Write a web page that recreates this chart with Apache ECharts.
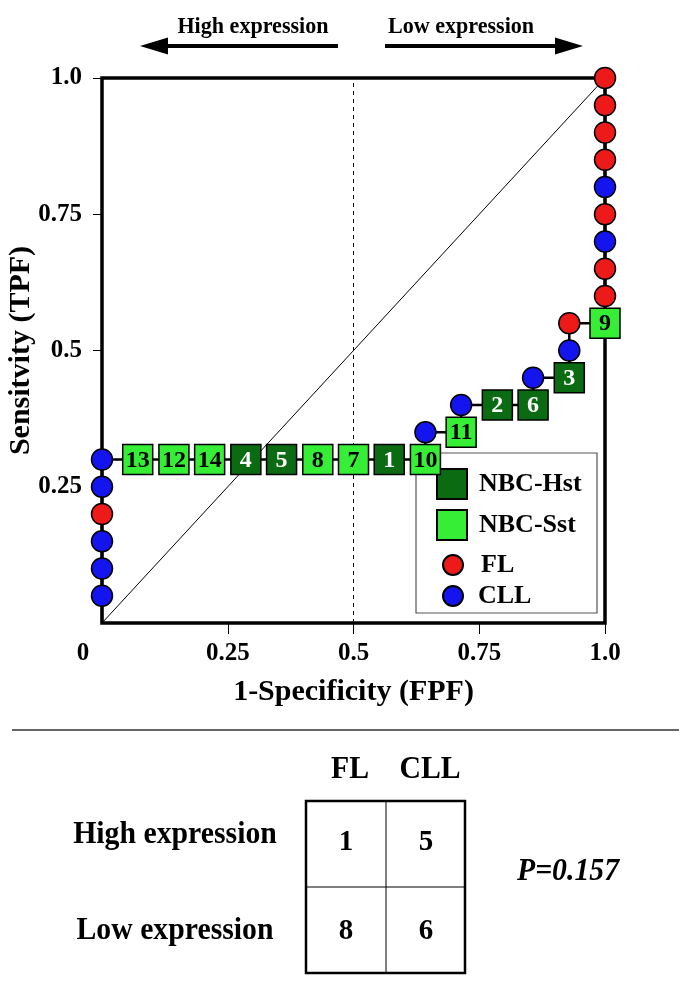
<!DOCTYPE html>
<html>
<head>
<meta charset="utf-8">
<script src="https://cdn.jsdelivr.net/npm/echarts@6/dist/echarts.min.js"></script>
<style>
html,body{margin:0;padding:0;background:#fff;}
#c{width:685px;height:989px;}
</style>
</head>
<body>
<div id="c"></div>
<script>
// ---- data ----
const xTickValues = [0.25, 0.5, 0.75, 1];
const xLabelValues = [0, 0.25, 0.5, 0.75, 1];
const yTickValues = [0.25, 0.5, 0.75, 1];

// ROC path (1-Specificity, Sensitivity), group and label of each step
const rocFPF = [0, 0, 0, 0, 0, 0, 0,
  0.071, 0.143, 0.214, 0.286, 0.357, 0.429, 0.5, 0.571, 0.643,
  0.643, 0.714, 0.714, 0.786, 0.857, 0.857, 0.929, 0.929, 0.929, 1,
  1, 1, 1, 1, 1, 1, 1, 1, 1];
const rocTPF = [0, 0.05, 0.10, 0.15, 0.20, 0.25, 0.30,
  0.30, 0.30, 0.30, 0.30, 0.30, 0.30, 0.30, 0.30, 0.30,
  0.35, 0.35, 0.40, 0.40, 0.40, 0.45, 0.45, 0.50, 0.55, 0.55,
  0.60, 0.65, 0.70, 0.75, 0.80, 0.85, 0.90, 0.95, 1.00];
const rocGroup = ['', 'CLL', 'CLL', 'CLL', 'FL', 'CLL', 'CLL',
  'NBC-Sst', 'NBC-Sst', 'NBC-Sst', 'NBC-Hst', 'NBC-Hst', 'NBC-Sst', 'NBC-Sst', 'NBC-Hst', 'NBC-Sst',
  'CLL', 'NBC-Sst', 'CLL', 'NBC-Hst', 'NBC-Hst', 'CLL', 'NBC-Hst', 'CLL', 'FL', 'NBC-Sst',
  'FL', 'FL', 'CLL', 'FL', 'CLL', 'FL', 'FL', 'FL', 'FL'];
const rocLabel = ['', '', '', '', '', '', '',
  '13', '12', '14', '4', '5', '8', '7', '1', '10',
  '', '11', '', '2', '6', '', '3', '', '', '9',
  '', '', '', '', '', '', '', '', ''];

const diagFPF = [0, 1];
const diagTPF = [0, 1];
const cutoffFPF = [0.5, 0.5];
const cutoffTPF = [0, 1];

// 2x2 table
const tableCols = ['FL', 'CLL'];
const tableRows = ['High expression', 'Low expression'];
const tableCounts = [[1, 5], [8, 6]];
const pText = 'P=0.157';

// ---- styles ----
const FF = '"Liberation Serif", "Times New Roman", serif';
const C = {
  'NBC-Hst': '#0b6b12',
  'NBC-Sst': '#36ee36',
  'FL': '#ee1a1a',
  'CLL': '#1414ee'
};

function pts(group) {
  const out = [];
  rocFPF.forEach((x, i) => {
    if (rocGroup[i] === group) out.push({ value: [x, rocTPF[i]], name: rocLabel[i] });
  });
  return out;
}

const squareSeries = (name, labelColor) => ({
  type: 'scatter', name, data: pts(name), symbol: 'rect', symbolSize: [30, 30], z: 4,
  itemStyle: { color: C[name], borderColor: '#000', borderWidth: 1.5, opacity: 1 },
  label: { show: true, position: 'inside', formatter: '{b}', color: labelColor,
    fontFamily: FF, fontWeight: 'bold', fontSize: 24, offset: [0, 1] },
  emphasis: { disabled: true }
});
const circleSeries = (name) => ({
  type: 'scatter', name, data: pts(name), symbol: 'circle', symbolSize: 21, z: 4,
  itemStyle: { color: C[name], borderColor: '#000', borderWidth: 1.5, opacity: 1 },
  emphasis: { disabled: true }
});

const legendItem = (name, icon, left, top, size, padLeft) => ({
  data: [{ name, icon }], left, top, itemWidth: size, itemHeight: size, padding: 0,
  selectedMode: false, z: 1,
  textStyle: { fontFamily: FF, fontWeight: 'bold', fontSize: 26, color: '#000', padding: [0, 0, 0, padLeft] }
});

// graphic
const txt = (text, x, y, size, sx, italic) => ({
  type: 'text', x, y, z: 5, scaleX: sx || 1,
  style: { text, fontFamily: FF, fontWeight: 'bold', fontStyle: italic ? 'italic' : 'normal', fontSize: size,
    fill: '#000', align: 'center', verticalAlign: 'middle' }
});
const graphics = [
  // legend box
  { type: 'rect', z: 0, shape: { x: 416, y: 453, width: 181, height: 160 }, style: { fill: '#fff', stroke: '#555', lineWidth: 1.2 } },
  // top arrows
  txt('High expression', 253, 27, 24, 0.92),
  txt('Low expression', 461, 27, 24, 0.92),
  { type: 'line', shape: { x1: 164, y1: 46, x2: 338, y2: 46 }, style: { stroke: '#000', lineWidth: 4 } },
  { type: 'polygon', shape: { points: [[140, 46], [168, 37.5], [168, 54.5]] }, style: { fill: '#000' } },
  { type: 'line', shape: { x1: 385, y1: 46, x2: 558, y2: 46 }, style: { stroke: '#000', lineWidth: 4 } },
  { type: 'polygon', shape: { points: [[583, 46], [555, 37.5], [555, 54.5]] }, style: { fill: '#000' } },
  // separator
  { type: 'line', shape: { x1: 12, y1: 730, x2: 679, y2: 730 }, style: { stroke: '#333', lineWidth: 1.5 } },
  // table frame
  { type: 'rect', shape: { x: 306, y: 801, width: 159, height: 172 }, style: { fill: 'none', stroke: '#000', lineWidth: 2.5 } },
  { type: 'line', shape: { x1: 386, y1: 801, x2: 386, y2: 973 }, style: { stroke: '#000', lineWidth: 1 } },
  { type: 'line', shape: { x1: 306, y1: 887, x2: 465, y2: 887 }, style: { stroke: '#000', lineWidth: 1 } },
  txt(pText, 568, 872, 32, 0.93, true)
];
const colX = [346, 426];
const rowY = [843, 932];
tableCols.forEach((c, j) => graphics.push(txt(c, [350, 430][j], 770, 32, 0.93)));
tableRows.forEach((r, i) => graphics.push(txt(r, 175, [835, 931][i], 32, 0.93)));
tableCounts.forEach((row, i) => row.forEach((v, j) => graphics.push(txt(String(v), colX[j], rowY[i], 29))));

const chart = echarts.init(document.getElementById('c'), null, { renderer: 'canvas' });
chart.setOption({
  animation: false,
  backgroundColor: '#fff',
  grid: { left: 102, right: 80, top: 78, bottom: 366, show: true, borderColor: '#000', borderWidth: 3.5,
    backgroundColor: 'transparent', containLabel: false, outerBoundsMode: 'none' },
  xAxis: {
    type: 'value', min: 0, max: 1, interval: 0.25, offset: 5,
    name: '1-Specificity (FPF)', nameLocation: 'middle', nameGap: 49,
    nameTextStyle: { fontFamily: FF, fontWeight: 'bold', fontSize: 30, color: '#000' },
    axisLine: { show: false },
    axisTick: { show: true, length: 11, customValues: xTickValues, lineStyle: { color: '#000', width: 1 } },
    splitLine: { show: false },
    axisLabel: {
      customValues: xLabelValues, margin: 13,
      fontFamily: FF, fontWeight: 'bold', fontSize: 25, color: '#000',
      formatter: v => v === 0 ? '{z|0}' : (v === 1 ? '1.0' : String(v)),
      rich: { z: { fontFamily: FF, fontWeight: 'bold', fontSize: 25, color: '#000', padding: [0, 38, 0, 0] } }
    }
  },
  yAxis: {
    type: 'value', min: 0, max: 1, interval: 0.25, offset: 2,
    name: 'Sensitvity (TPF)', nameLocation: 'middle', nameGap: 64, nameMoveOverlap: false,
    nameTextStyle: { fontFamily: FF, fontWeight: 'bold', fontSize: 30, color: '#000' },
    axisLine: { show: false },
    axisTick: { show: true, length: 9, customValues: yTickValues, lineStyle: { color: '#000', width: 1 } },
    splitLine: { show: false },
    axisLabel: {
      customValues: yTickValues, margin: 18,
      fontFamily: FF, fontWeight: 'bold', fontSize: 25, color: '#000',
      formatter: v => v === 1 ? '1.0' : String(v)
    }
  },
  legend: [
    legendItem('NBC-Hst', 'rect', 436, 468, 30, 7),
    legendItem('NBC-Sst', 'rect', 436, 509, 30, 7),
    legendItem('FL', 'circle', 442, 552, 20, 13),
    legendItem('CLL', 'circle', 442, 583, 20, 10)
  ],
  graphic: graphics,
  series: [
    { type: 'line', name: 'diag', data: diagFPF.map((x, i) => [x, diagTPF[i]]), symbol: 'none', clip: false, z: 2,
      lineStyle: { color: '#000', width: 1 }, silent: true },
    { type: 'line', name: 'cutoff', data: cutoffFPF.map((x, i) => [x, cutoffTPF[i]]), symbol: 'none', clip: false, z: 2,
      lineStyle: { color: '#000', width: 1, type: [4, 4] }, silent: true },
    { type: 'line', name: 'roc', data: rocFPF.map((x, i) => [x, rocTPF[i]]), symbol: 'none', clip: false, z: 3,
      lineStyle: { color: '#000', width: 2.5 }, silent: true },
    squareSeries('NBC-Hst', '#fff'),
    squareSeries('NBC-Sst', '#000'),
    circleSeries('FL'),
    circleSeries('CLL')
  ]
});
</script>
</body>
</html>
